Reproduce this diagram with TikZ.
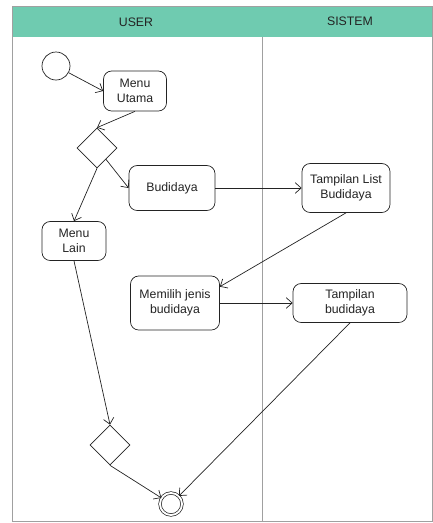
\documentclass[tikz,border=0pt]{standalone}
\usepackage{fontspec}
\setmainfont{Liberation Sans}
\usepackage{xcolor}
\definecolor{laneteal}{RGB}{111,203,176}
\definecolor{lanegray}{RGB}{160,160,160}
\definecolor{inkgray}{RGB}{35,35,35}
\usetikzlibrary{arrows.meta,shapes.geometric}

\begin{document}
\begin{tikzpicture}[x=0.03cm,y=-0.03cm,font=\fontsize{10.5}{12.5}\selectfont,
  act/.style={draw=inkgray,semithick,rounded corners=7pt,align=center,inner sep=2pt,text=inkgray},
  dec/.style={draw=inkgray,semithick,diamond,aspect=1,minimum size=1.2cm,inner sep=0pt},
  flow/.style={-{Straight Barb[length=5pt,width=9pt]},semithick,inkgray}]
  \useasboundingbox (0,0) rectangle (433,523);
  % lanes
  \fill[laneteal] (12,6) rectangle (433,37);
  \draw[lanegray] (12,6) rectangle (432,521);
  \draw[lanegray] (262,37) -- (262,521);
  \node[text=inkgray] (user) at (136,22) {USER};
  \node[text=inkgray] (sistem) at (350,21) {SISTEM};
  % nodes
  \node[draw=inkgray,semithick,circle,minimum size=0.84cm] (start) at (56,66) {};
  \node[act,minimum width=1.89cm,minimum height=1.2cm] (mu) at (135,91) {Menu\\Utama};
  \node[dec] (d1) at (97,148) {};
  \node[act,minimum width=2.58cm,minimum height=1.35cm] (bud) at (172,188) {Budidaya};
  \node[act,minimum width=2.64cm,minimum height=1.47cm] (tlb) at (346,188) {Tampilan List\\Budidaya};
  \node[act,minimum width=1.92cm,minimum height=1.17cm] (ml) at (74,241) {Menu\\Lain};
  \node[act,minimum width=2.67cm,minimum height=1.62cm] (mem) at (175,303) {Memilih jenis\\budidaya};
  \node[act,minimum width=3.42cm,minimum height=1.17cm] (tb) at (350,303) {Tampilan\\budidaya};
  \node[dec] (d2) at (110,445) {};
  \node[draw=inkgray,semithick,circle,double,double distance=1.6pt,minimum size=0.66cm] (fin) at (171,504) {};
  % flows
  \draw[flow] (start) -- (mu.west);
  \draw[flow] (mu.south) -- (d1.north);
  \draw[flow] (d1) -- (bud.west);
  \draw[flow] (d1.south) -- (ml.north);
  \draw[flow] (bud.east) -- (tlb.west);
  \draw[flow] (tlb.south) -- (mem.20);
  \draw[flow] (mem.east) -- (tb.west);
  \draw[flow] (ml.south) -- (d2.north);
  \draw[flow] (d2.south) -- (fin);
  \draw[flow] (tb.south) -- (fin);
\end{tikzpicture}
\end{document}
